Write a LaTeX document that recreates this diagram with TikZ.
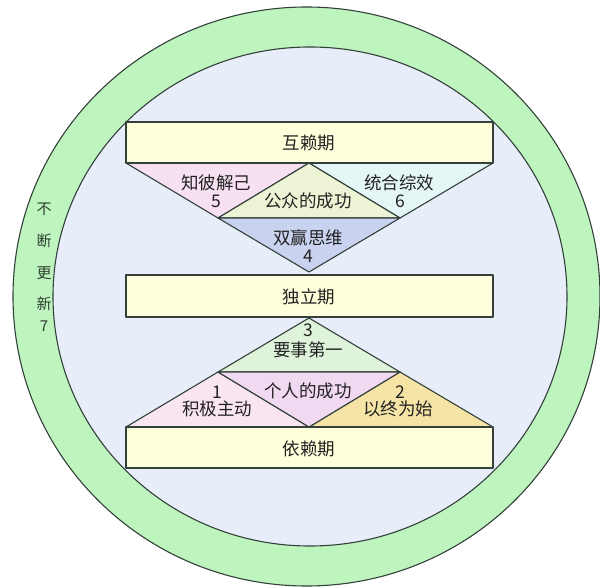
\documentclass[tikz,border=0pt]{standalone}
\usepackage{fontspec}
\newfontfamily\cjk{Noto Sans CJK SC}
\definecolor{ringgreen}{HTML}{BEF5BE}
\definecolor{innerblue}{HTML}{E8EDFA}
\definecolor{boxyellow}{HTML}{FFFFDC}
\definecolor{linegray}{HTML}{34403A}
\definecolor{pinkA}{HTML}{F6E0F2}
\definecolor{cyanA}{HTML}{E4F7F6}
\definecolor{greenA}{HTML}{EDF4D6}
\definecolor{blueA}{HTML}{C9D3F0}
\definecolor{greenB}{HTML}{DFF3DA}
\definecolor{violetB}{HTML}{F1D9F1}
\definecolor{pinkB}{HTML}{F8E5F1}
\definecolor{yellowB}{HTML}{F6E4A6}
\definecolor{textdark}{HTML}{222222}
\definecolor{sidetext}{HTML}{2E3E30}
\tikzset{
  edge/.style={draw=linegray, line width=1.1pt, line join=round},
  label/.style={font=\cjk\fontsize{17.5}{19}\selectfont, text=textdark, inner sep=0pt},
  sidelabel/.style={font=\cjk\fontsize{15}{17}\selectfont, text=sidetext, inner sep=0pt},
}
\begin{document}
\begin{tikzpicture}[x=1pt,y=-1pt]
\useasboundingbox (0,0) rectangle (600,588);
% rings
\draw[edge, fill=ringgreen] (306.5,296.5) ellipse [x radius=293.5, y radius=289.5];
\draw[edge, fill=innerblue] (310,296.5) ellipse [x radius=257, y radius=249.5];
% upper group
\draw[edge, fill=pinkA] (126,163) -- (309,163) -- (218,218) -- cycle;
\draw[edge, fill=cyanA] (309,163) -- (493,163) -- (400,218) -- cycle;
\draw[edge, fill=greenA] (309,163) -- (400,218) -- (218,218) -- cycle;
\draw[edge, fill=blueA] (218,218) -- (400,218) -- (309,272) -- cycle;
\draw[edge, fill=boxyellow] (126,122) rectangle (493,163);
% middle box
\draw[edge, fill=boxyellow] (126,275) rectangle (493,317);
% lower group
\draw[edge, fill=greenB] (309,318) -- (400,372) -- (218,372) -- cycle;
\draw[edge, fill=pinkB] (126,427) -- (218,372) -- (309,427) -- cycle;
\draw[edge, fill=yellowB] (309,427) -- (400,372) -- (493,427) -- cycle;
\draw[edge, fill=violetB] (218,372) -- (400,372) -- (309,427) -- cycle;
\draw[edge, fill=boxyellow] (126,427) rectangle (493,468);
% labels
\node[label] (hulai) at (309,143) {互赖期};
\node[label] (zhibi) at (216,183) {知彼解己};
\node[label] (n5) at (216,201) {5};
\node[label] (gongzhong) at (308,201) {公众的成功};
\node[label] (tonghe) at (399,183) {统合综效};
\node[label] (n6) at (400,201) {6};
\node[label] (shuangying) at (308,238) {双赢思维};
\node[label] (n4) at (308,256) {4};
\node[label] (duli) at (309,297) {独立期};
\node[label] (n3) at (308,330) {3};
\node[label] (yaoshi) at (308,350) {要事第一};
\node[label] (geren) at (308,391) {个人的成功};
\node[label] (n1) at (217,392) {1};
\node[label] (jiji) at (217,409) {积极主动};
\node[label] (n2) at (400,392) {2};
\node[label] (yizhong) at (398,409) {以终为始};
\node[label] (yilai) at (309,449) {依赖期};
\node[sidelabel] (bu) at (44,209) {不};
\node[sidelabel] (duan) at (44,241) {断};
\node[sidelabel] (geng) at (44,273) {更};
\node[sidelabel] (xin) at (44,304) {新};
\node[sidelabel] (n7) at (44,326) {7};
\end{tikzpicture}
\end{document}
